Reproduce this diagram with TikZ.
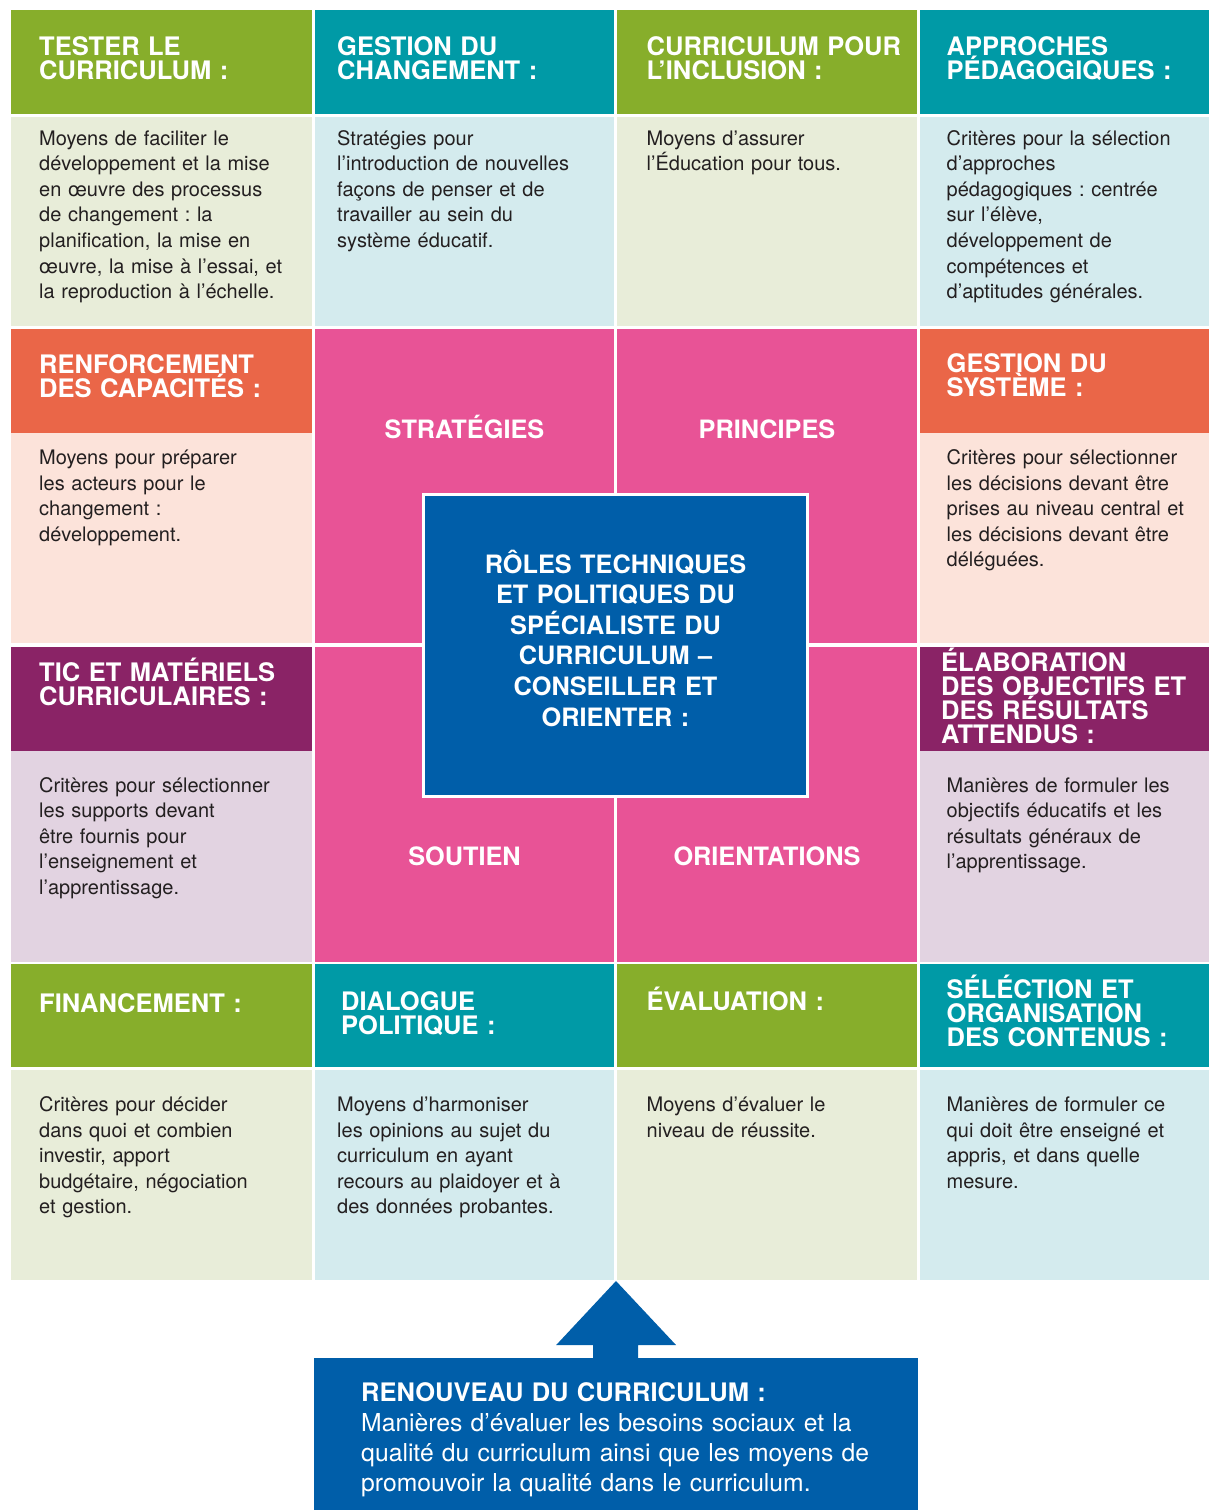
\documentclass[tikz,border=0pt]{standalone}
\usepackage{fontspec}
\setmainfont{TeX Gyre Heros}
\definecolor{cvert}{HTML}{87AE2B}
\definecolor{cteal}{HTML}{009AA6}
\definecolor{corange}{HTML}{EA6648}
\definecolor{cviolet}{HTML}{8A2366}
\definecolor{crose}{HTML}{E85396}
\definecolor{cbleu}{HTML}{005EA9}
\definecolor{cvertc}{HTML}{E8EDD9}
\definecolor{ctealc}{HTML}{D4EBEE}
\definecolor{corangec}{HTML}{FCE3DA}
\definecolor{cvioletc}{HTML}{E2D3E1}
\definecolor{cnoir}{HTML}{231F20}
\lineskiplimit=-20pt
\frenchspacing
\tikzset{
	titre/.style={anchor=base west, inner sep=0pt, text=white, align=left, text width=290pt, font=\bfseries\fontsize{25.5}{24}\selectfont},
	texte/.style={anchor=base west, inner sep=0pt, text=cnoir, align=left, text width=290pt, font=\fontsize{20}{25.6}\selectfont},
	milieu/.style={anchor=base, inner sep=0pt, text=white, font=\bfseries\fontsize{25.3}{30.6}\selectfont}
}
\begin{document}
\begin{tikzpicture}[x=1pt,y=-1pt]
				\useasboundingbox (0,0) rectangle (1209,1510);
				%rangees 1 et 4
				\foreach \xa/\xb/\ct/\cc in {11/312/cvert/cvertc, 315/614/cteal/ctealc, 617/917/cvert/cvertc, 920/1209/cteal/ctealc} {
					\fill[\ct] (\xa,10) rectangle (\xb,114);
					\fill[\cc] (\xa,116.5) rectangle (\xb,326);
					\fill[\ct] (\xa,964) rectangle (\xb,1067);
					\fill[\cc] (\xa,1069.5) rectangle (\xb,1280);
				}
				%rangees 2 et 3
				\foreach \xa/\xb in {11/312, 920/1209} {
					\fill[corange] (\xa,329) rectangle (\xb,433);
					\fill[corangec] (\xa,433) rectangle (\xb,643);
					\fill[cviolet] (\xa,646.5) rectangle (\xb,751);
					\fill[cvioletc] (\xa,751) rectangle (\xb,961.5);
				}
				%centre rose
				\foreach \xa/\xb in {315/614, 617/917} {
					\foreach \ya/\yb in {329/643, 646.5/962} {
						\fill[crose] (\xa,\ya) rectangle (\xb,\yb);
					}
				}
				\node[milieu] (strategies) at (464.5,438) {STRATÉGIES};
				\node[milieu] (principes) at (767,438) {PRINCIPES};
				\node[milieu] (soutien) at (464.5,865) {SOUTIEN};
				\node[milieu] (orientations) at (767,865) {ORIENTATIONS};
				\node[draw=white, line width=2.5pt, fill=cbleu, minimum width=384pt, minimum height=302pt, inner sep=0pt] (centre) at (615.5,645.5) {};
				\node[milieu, text width=360pt, align=center] (centretexte) at (615.5,573) {RÔLES TECHNIQUES\\ET POLITIQUES DU\\SPÉCIALISTE DU\\CURRICULUM –\\CONSEILLER ET\\ORIENTER :};
				%titres
				\node[titre] (tester) at (39,55) {TESTER LE\\CURRICULUM :};
				\node[titre] (changement) at (337,55) {GESTION DU\\CHANGEMENT :};
				\node[titre] (inclusion) at (646.5,55) {CURRICULUM POUR\\L’INCLUSION :};
				\node[titre] (approches) at (946.5,55) {APPROCHES\\PÉDAGOGIQUES :};
				\node[titre] (renforcement) at (39,373) {RENFORCEMENT\\DES CAPACITÉS :};
				\node[titre] (systeme) at (946.5,372) {GESTION DU\\SYSTÈME :};
				\node[titre] (tic) at (39,681) {TIC ET MATÉRIELS\\CURRICULAIRES :};
				\node[titre] (objectifs) at (941,671.5) {ÉLABORATION\\DES OBJECTIFS ET\\DES RÉSULTATS\\ATTENDUS :};
				\node[titre] (financement) at (39,1012) {FINANCEMENT :};
				\node[titre] (dialogue) at (341,1010) {DIALOGUE\\POLITIQUE :};
				\node[titre] (evaluation) at (646.5,1010) {ÉVALUATION :};
				\node[titre] (contenus) at (946.5,998) {SÉLÉCTION ET\\ORGANISATION\\DES CONTENUS :};
				%textes
				\node[texte] (testertexte) at (39,145) {Moyens de faciliter le\\développement et la mise\\en œuvre des processus\\de changement : la\\planification, la mise en\\œuvre, la mise à l’essai, et\\la reproduction à l’échelle.};
				\node[texte] (changementtexte) at (337,145) {Stratégies pour\\l’introduction de nouvelles\\façons de penser et de\\travailler au sein du\\système éducatif.};
				\node[texte] (inclusiontexte) at (646.5,145) {Moyens d’assurer\\l’Éducation pour tous.};
				\node[texte] (approchestexte) at (946.5,145) {Critères pour la sélection\\d’approches\\pédagogiques : centrée\\sur l’élève,\\développement de\\compétences et\\d’aptitudes générales.};
				\node[texte] (renforcementtexte) at (39,464.5) {Moyens pour préparer\\les acteurs pour le\\changement :\\développement.};
				\node[texte] (systemetexte) at (946.5,464.5) {Critères pour sélectionner\\les décisions devant être\\prises au niveau central et\\les décisions devant être\\déléguées.};
				\node[texte] (tictexte) at (39,792) {Critères pour sélectionner\\les supports devant\\être fournis pour\\l’enseignement et\\l’apprentissage.};
				\node[texte] (objectifstexte) at (946.5,792) {Manières de formuler les\\objectifs éducatifs et les\\résultats généraux de\\l’apprentissage.};
				\node[texte] (financementtexte) at (39,1111.5) {Critères pour décider\\dans quoi et combien\\investir, apport\\budgétaire, négociation\\et gestion.};
				\node[texte] (dialoguetexte) at (337,1111.5) {Moyens d’harmoniser\\les opinions au sujet du\\curriculum en ayant\\recours au plaidoyer et à\\des données probantes.};
				\node[texte] (evaluationtexte) at (646.5,1111.5) {Moyens d’évaluer le\\niveau de réussite.};
				\node[texte] (contenustexte) at (946.5,1111.5) {Manières de formuler ce\\qui doit être enseigné et\\appris, et dans quelle\\mesure.};
				%renouveau
				\node[fill=cbleu, minimum width=604pt, minimum height=152pt, inner sep=0pt, anchor=north west] (renouveau) at (314,1358) {};
				\coordinate (pointe) at (616,1281);
				\fill[cbleu] ([xshift=-23pt]renouveau.north) -- ++(0,-13) -- ++(-37,0) -- (pointe) -- ++(60,64) -- ++(-38,0) -- ([xshift=22pt]renouveau.north) -- cycle;
				\node[texte, text=white, text width=540pt, font=\fontsize{24.7}{30}\selectfont] (renouveautexte) at (361,1401.7) {{\bfseries\fontsize{25.5}{30}\selectfont RENOUVEAU DU CURRICULUM :}\\Manières d’évaluer les besoins sociaux et la\\qualité du curriculum ainsi que les moyens de\\promouvoir la qualité dans le curriculum.};
			\end{tikzpicture}
\end{document}
